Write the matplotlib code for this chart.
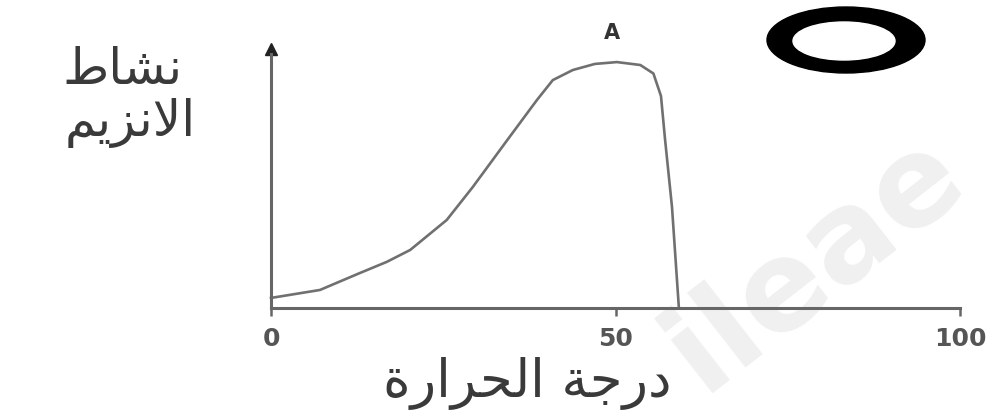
import numpy as np
import matplotlib
matplotlib.use("Agg")
import matplotlib.pyplot as plt
from matplotlib.patches import Ellipse

plt.rcParams['font.family'] = ['DejaVu Sans']

# temperature vs enzyme activity
temp = [0, 7.1, 12.9, 16.8, 20.2, 25.5, 29.3, 34.3, 38.6, 40.9, 43.8, 47.0, 50.2, 53.6, 55.5, 56.6, 57.2, 58.2, 59.2]
activity = [3.8, 6.8, 13.2, 17.4, 21.9, 33.2, 45.7, 63.4, 78.5, 86.0, 89.8, 92.1, 92.8, 91.7, 88.5, 80.0, 63.4, 38.1, 0]

xticks = [0, 50, 100]
xticklabels = ["0", "50", "100"]

# arabic labels (pre-shaped presentation forms, visual order)
ylabel_1 = "\uFEC1\uFE8E\uFEB8\uFEE7"                      # نشاط
ylabel_2 = "\uFEE2\uFEF3\uFEB0\uFEE7\uFEFB\uFE8D"          # الانزيم
xlabel = "\uFE93\uFEAD\uFE8D\uFEAE\uFEA4\uFEDF\uFE8D \uFE94\uFE9F\uFEAD\uFEA9"  # درجة الحرارة
peak_label = "A"

W, H = 998, 416
fig = plt.figure(figsize=(W / 100, H / 100), dpi=100)

# watermark behind everything
fig.text(815 / W, 1 - 262 / H, "ileae", rotation=38, fontsize=90, color="#f0f0f0",
         weight="bold", ha="center", va="center", rotation_mode="anchor", zorder=-1)

ax = fig.add_axes([271 / W, 1 - 308 / H, (960 - 271) / W, (308 - 43) / H])
ax.set_facecolor("none")
ax.plot(temp, activity, color="#707070", lw=1.9, solid_joinstyle="round", clip_on=False)
ax.set_xlim(0, 100)
ax.set_ylim(0, 100)

axis_col = "#666666"
for s in ["top", "right"]:
    ax.spines[s].set_visible(False)
for s in ["left", "bottom"]:
    ax.spines[s].set_color(axis_col)
    ax.spines[s].set_linewidth(2.2)
ax.spines["left"].set_bounds(0, 96)

# arrow head on the y axis
ax.plot([0], [97.7], marker="^", ms=9, color="#222222", clip_on=False)

ax.set_yticks([])
ax.set_xticks(xticks)
ax.set_xticklabels(xticklabels)
ax.tick_params(axis="x", direction="out", length=6, width=1.8, color=axis_col,
               pad=8, labelsize=18, labelcolor="#555555")
for lab in ax.get_xticklabels():
    lab.set_fontweight("bold")

ax.text(49.5, 103.8, peak_label, ha="center", va="center", fontsize=15, weight="bold",
        color="#333333", clip_on=False)

fig.text(122 / W, 1 - 70 / H, ylabel_1, ha="center", va="center", fontsize=36,
         color="#3a3a3a")
fig.text(130 / W, 1 - 123 / H, ylabel_2, ha="center", va="center", fontsize=36,
         color="#3a3a3a")
fig.text(527 / W, 1 - 384 / H, xlabel, ha="center", va="center", fontsize=38,
         color="#3a3a3a")

# the thick ring top right
over = fig.add_axes([0, 0, 1, 1])
over.set_xlim(0, W)
over.set_ylim(H, 0)
over.axis("off")
over.patch.set_alpha(0)
over.add_patch(Ellipse((846, 40), 158, 66, color="black"))
over.add_patch(Ellipse((844, 41), 102, 38, color="white"))

fig.savefig("out.png", dpi=100)
